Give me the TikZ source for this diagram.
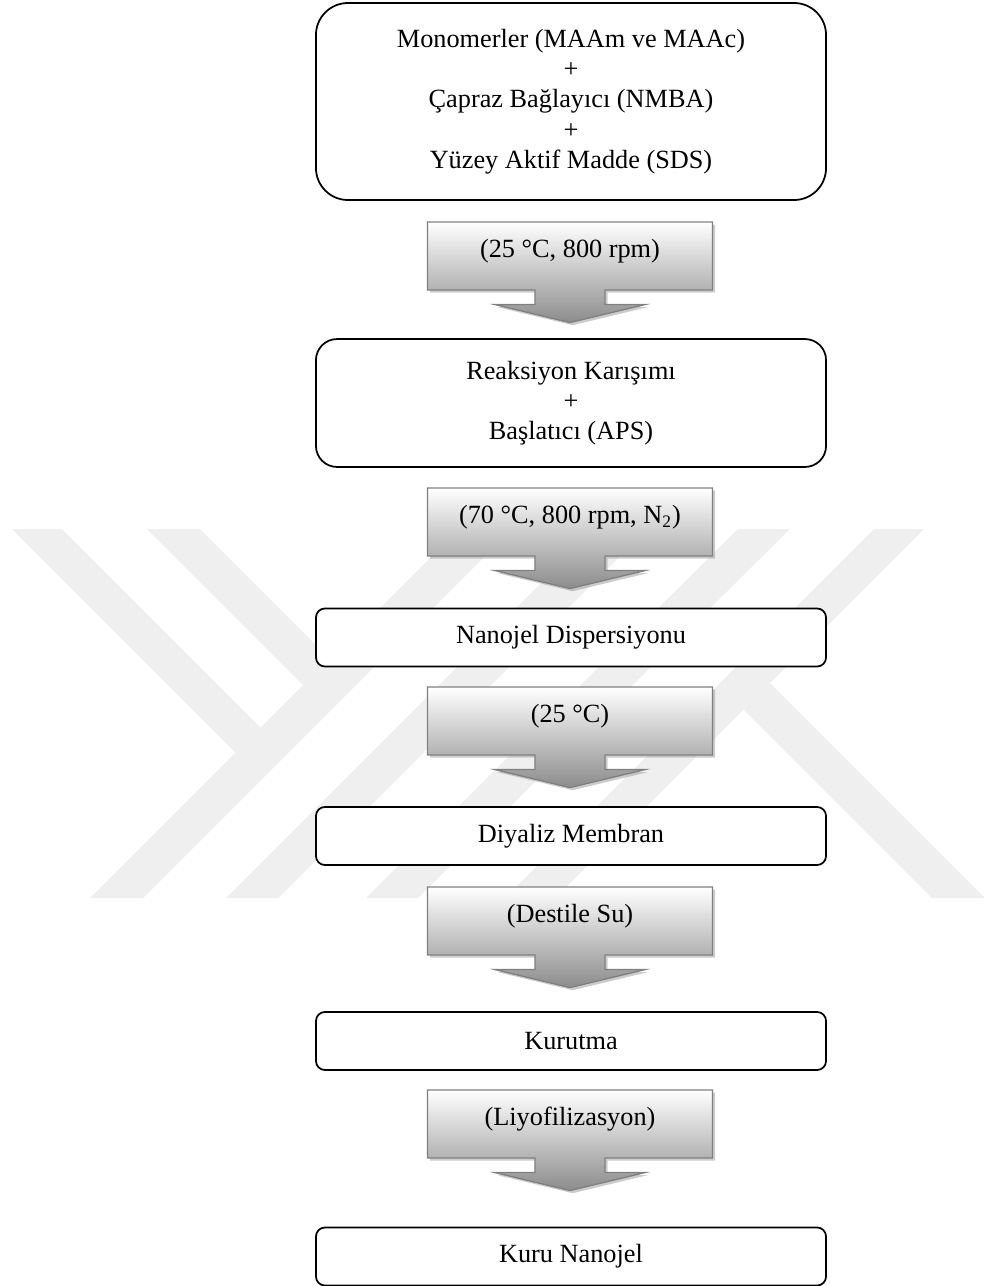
\documentclass[tikz,border=0pt]{standalone}
\usepackage{fontspec}
\setmainfont{Liberation Serif}
\usepackage{tikz}
\usetikzlibrary{shapes.arrows, shadows}
\definecolor{wmgray}{RGB}{239,239,239}
\definecolor{okgray}{RGB}{128,128,128}
\tikzset{
  kutu/.style={draw, fill=white, line width=0.8pt, rounded corners=4.1pt,
    minimum width=232.9pt, minimum height=26.5pt, align=center,
    font=\fontsize{12}{13.8}\selectfont},
  ok/.style={arrow box, arrow box arrows={south:14.6pt},
    arrow box shaft width=32pt, arrow box head extend=18.3pt, arrow box tip angle=153,
    draw=okgray, line width=0.6pt, top color=white, bottom color=black!45,
    drop shadow={shadow xshift=1.2pt, shadow yshift=-1.2pt, fill=black!40, opacity=0.5},
    minimum width=130.1pt, minimum height=31pt, text depth=7pt,
    font=\fontsize{12}{13.8}\selectfont},
  wm/.style={fill=wmgray}
}

\begin{document}
\begin{tikzpicture}[x=0.4566pt, y=-0.4566pt]
\useasboundingbox (0,0) rectangle (984,1286);

% filigran
\fill[wm] (12,529) -- (62,529) -- (260.5,727.5) -- (235.5,752.5) -- cycle;
\fill[wm] (147,529) -- (200,529) -- (329.5,658.5) -- (303,685) -- cycle;
\fill[wm] (90,898) -- (143,898) -- (512,529) -- (459,529) -- cycle;
\fill[wm] (226,898) -- (278,898) -- (647,529) -- (595,529) -- cycle;
\fill[wm] (366,898) -- (418,898) -- (790,529) -- (738,529) -- cycle;
\fill[wm] (505,898) -- (555,898) -- (924,529) -- (874,529) -- cycle;
\fill[wm] (743.5,709.5) -- (770,683) -- (985,898) -- (932,898) -- cycle;

\node [kutu, minimum height=89.95pt, rounded corners=14.6pt] (M) at (571,101.5)
  {Monomerler (MAAm ve MAAc)\\+\\Çapraz Bağlayıcı (NMBA)\\+\\Yüzey Aktif Madde (SDS)};
\node [kutu, minimum height=58.4pt, rounded corners=9.6pt] (R) at (571,403)
  {Reaksiyon Karışımı\\+\\Başlatıcı (APS)};
\node [kutu] (ND) at (571,637.5) {Nanojel Dispersiyonu};
\node [kutu] (DM) at (571,836) {Diyaliz Membran};
\node [kutu] (K) at (571,1041) {Kurutma};
\node [kutu] (KN) at (571,1256.5) {Kuru Nanojel};

\node [ok] (O1) at (570,256) {(25 °C, 800 rpm)};
\node [ok] (O2) at (570,522) {(70 °C, 800 rpm, N\textsubscript{2})};
\node [ok] (O3) at (570,721) {(25 °C)};
\node [ok] (O4) at (570,921) {(Destile Su)};
\node [ok] (O5) at (570,1124) {(Liyofilizasyon)};

\end{tikzpicture}
\end{document}
